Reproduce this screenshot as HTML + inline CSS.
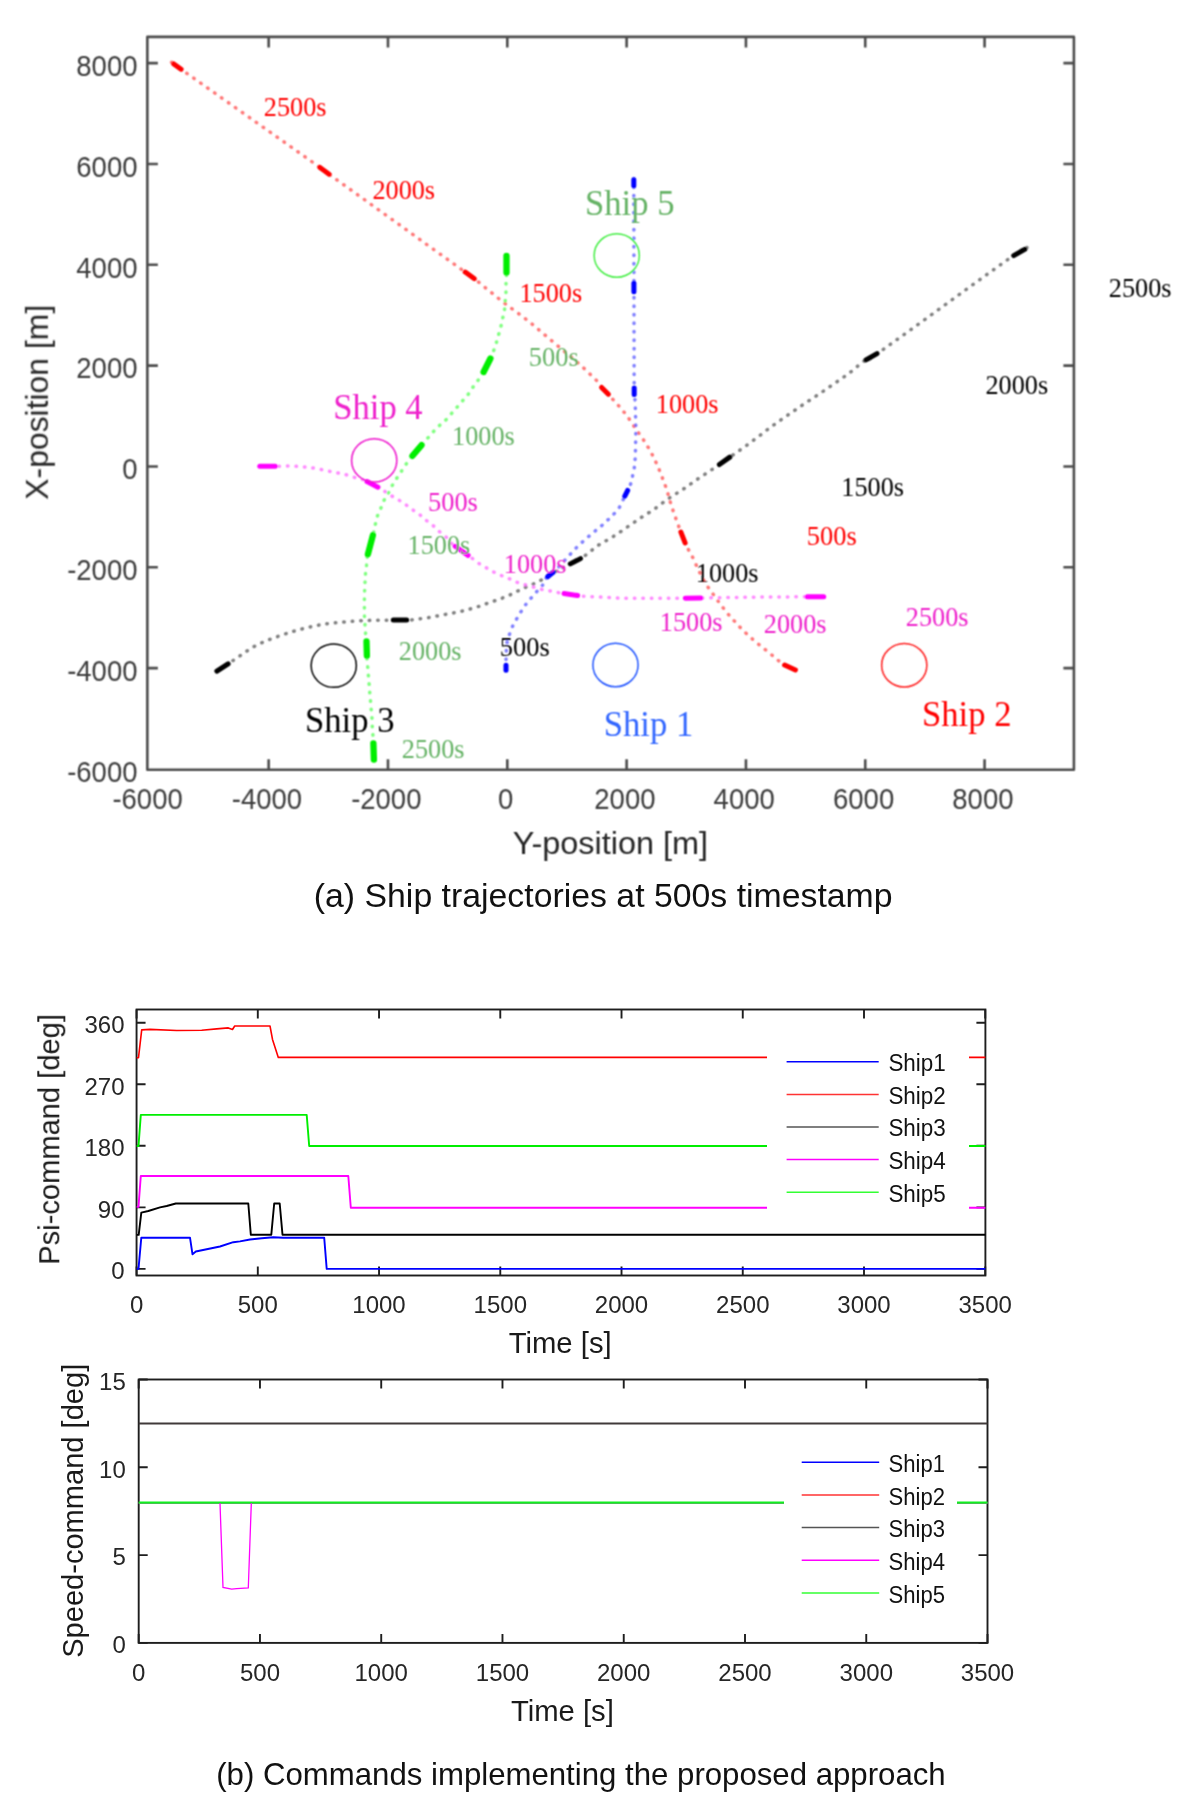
<!DOCTYPE html><html><head><meta charset="utf-8"><style>html,body{margin:0;padding:0;background:#fff;}svg{display:block;}</style></head><body>
<svg width="1200" height="1818" viewBox="0 0 1200 1818">
<defs><filter id="soft" x="0" y="0" width="1200" height="1818" filterUnits="userSpaceOnUse"><feConvolveMatrix order="3" kernelMatrix="1 2 1 2 4 2 1 2 1" divisor="16" edgeMode="none"/></filter></defs>
<rect width="1200" height="1818" fill="#fff"/>
<g filter="url(#soft)">
<path d="M797.5 671.0 L796.2 670.4 L794.2 669.5 L792.1 668.5 L790.0 667.5 L788.1 666.7 L786.2 665.9 L784.4 665.1 L782.5 664.0 L780.8 662.7 L779.1 661.2 L777.3 659.5 L775.0 657.5 L772.1 655.2 L768.8 652.5 L765.4 649.8 L762.0 647.0 L758.7 644.3 L755.4 641.6 L752.2 638.8 L749.0 636.0 L745.9 633.1 L742.9 630.1 L739.9 627.1 L737.0 624.0 L734.1 620.8 L731.2 617.6 L728.3 614.3 L725.6 611.0 L723.0 607.7 L720.5 604.3 L718.0 601.0 L715.6 597.6 L713.1 594.2 L710.7 590.9 L708.3 587.5 L706.0 584.0 L703.8 580.3 L701.8 576.5 L699.8 572.6 L698.0 569.0 L696.4 565.6 L694.9 562.2 L693.5 559.1 L692.0 556.0 L690.5 553.2 L688.9 550.5 L687.4 547.8 L686.0 545.0 L684.7 541.8 L683.4 538.5 L682.2 535.1 L681.0 532.0 L680.0 529.4 L679.0 527.1 L678.1 524.6 L677.0 521.7 L675.7 518.0 L674.2 513.8 L672.7 509.5 L671.3 505.3 L670.1 501.4 L669.0 497.5 L667.9 493.7 L666.7 489.7 L665.3 485.6 L663.7 481.3 L662.1 477.1 L660.5 473.0 L658.9 469.0 L657.2 465.1 L655.5 461.3 L653.7 457.5 L651.8 453.8 L649.8 450.1 L647.7 446.5 L645.5 443.0 L643.3 439.6 L641.0 436.4 L638.7 433.1 L636.3 429.7 L633.9 426.1 L631.4 422.4 L628.9 418.6 L626.3 415.0 L623.5 411.5 L620.6 408.1 L617.8 404.8 L615.0 401.7 L612.3 398.8 L609.7 396.0 L607.2 393.5 L605.0 391.0 L603.1 388.7 L601.4 386.4 L599.8 384.4 L598.3 382.5 L597.0 381.0 L595.9 379.8 L594.6 378.5 L592.7 376.7 L590.0 374.1 L586.8 371.1 L583.4 367.8 L580.0 364.7 L576.9 361.9 L573.8 359.3 L570.5 356.5 L566.7 353.3 L562.3 349.6 L557.4 345.5 L552.3 341.2 L547.3 337.0 L542.5 332.9 L537.7 328.8 L532.9 324.7 L528.0 320.7 L522.9 316.8 L517.7 313.0 L512.5 309.2 L507.3 305.3 L502.0 301.2 L496.7 296.9 L491.7 292.8 L487.3 289.3 L483.9 286.5 L481.2 284.2 L478.7 282.2 L476.0 280.0 L475.7 279.7 L477.2 280.7 L474.9 279.1 L463.3 270.7 L435.8 251.0 L397.2 223.2 L358.5 195.4 L331.0 175.6 L322.2 169.2 L324.7 170.8 L327.0 172.4 L318.0 166.0 L289.9 146.1 L250.4 118.2 L210.9 90.3 L183.0 70.6 L171.3 62.2 L169.0 60.6 L171.0 61.9 L171.9 62.5" fill="none" stroke="#ff4d4d" stroke-width="3.5" stroke-linecap="round" stroke-dasharray="0.5 8.0" stroke-dashoffset="-4.5" opacity="0.75"/>
<path d="M506.0 672.5 L506.0 671.1 L506.0 669.1 L506.0 666.7 L506.0 664.0 L506.0 660.8 L506.1 657.1 L506.2 653.3 L506.3 650.0 L506.5 647.1 L506.8 644.6 L507.1 642.2 L507.5 640.0 L508.0 638.1 L508.6 636.4 L509.3 634.8 L510.0 633.0 L510.7 631.0 L511.5 628.9 L512.4 626.7 L513.3 624.7 L514.3 622.8 L515.3 621.1 L516.4 619.3 L517.5 617.5 L518.6 615.6 L519.7 613.7 L520.9 611.8 L522.0 610.0 L523.1 608.3 L524.3 606.6 L525.5 604.9 L526.7 603.3 L528.0 601.7 L529.3 600.1 L530.6 598.6 L532.0 597.0 L533.4 595.5 L534.7 593.9 L536.1 592.4 L537.5 590.8 L539.0 589.2 L540.6 587.5 L542.1 585.8 L543.3 584.2 L544.0 582.7 L544.3 581.3 L544.8 579.9 L545.8 578.3 L547.6 576.6 L549.9 574.9 L552.4 573.0 L555.0 570.8 L557.6 568.2 L560.2 565.3 L563.0 562.3 L565.8 559.2 L568.7 556.0 L571.7 552.7 L574.7 549.4 L577.8 546.3 L580.9 543.4 L584.0 540.5 L587.1 537.8 L590.3 535.0 L593.5 532.3 L596.8 529.7 L600.1 527.0 L603.3 524.2 L606.6 521.1 L610.1 517.8 L613.2 514.7 L615.8 512.0 L617.6 510.0 L618.7 508.4 L619.6 507.0 L620.5 505.5 L621.4 503.8 L622.1 502.1 L622.9 500.3 L623.8 498.3 L625.0 495.9 L626.3 493.2 L627.6 490.6 L628.7 488.3 L629.5 486.5 L630.2 485.0 L630.8 483.6 L631.3 482.0 L631.8 480.1 L632.2 478.0 L632.6 475.8 L633.0 473.7 L633.4 471.7 L633.9 469.9 L634.3 467.7 L634.7 465.0 L635.0 461.4 L635.2 457.2 L635.4 452.7 L635.5 448.3 L635.6 444.0 L635.7 439.5 L635.8 435.1 L635.8 430.8 L635.8 426.5 L635.7 422.3 L635.6 418.2 L635.5 414.2 L635.4 410.5 L635.3 406.9 L635.2 403.5 L635.0 400.0 L634.8 398.1 L634.6 397.4 L634.4 394.4 L634.2 385.8 L634.1 370.2 L634.1 349.7 L634.0 325.7 L634.0 300.0 L633.9 269.1 L633.9 233.4 L633.8 200.4 L633.8 177.5" fill="none" stroke="#5555ff" stroke-width="3.5" stroke-linecap="round" stroke-dasharray="0.5 8.0" stroke-dashoffset="-4.5" opacity="0.75"/>
<path d="M215.0 672.5 L217.9 670.6 L222.0 667.8 L226.4 664.9 L230.0 662.5 L232.2 661.1 L233.6 660.1 L235.1 659.1 L237.5 657.5 L241.1 655.0 L245.5 652.0 L250.2 648.8 L255.0 646.0 L259.7 643.7 L264.5 641.5 L269.6 639.5 L275.0 637.5 L280.9 635.4 L287.2 633.3 L293.6 631.3 L300.0 629.5 L306.2 627.9 L312.5 626.4 L318.8 625.1 L325.0 624.0 L331.5 623.1 L338.1 622.5 L344.4 621.9 L350.0 621.5 L354.4 621.1 L358.0 620.9 L361.6 620.7 L366.0 620.5 L371.8 620.3 L378.4 620.2 L385.0 620.2 L391.0 620.1 L396.2 620.1 L401.0 620.1 L405.3 620.2 L409.0 620.1 L411.9 619.9 L414.1 619.6 L416.0 619.3 L418.0 619.0 L419.9 618.8 L421.7 618.6 L423.7 618.4 L426.3 618.0 L429.8 617.4 L433.9 616.6 L438.2 615.8 L442.5 615.0 L446.7 614.2 L450.9 613.4 L455.1 612.6 L459.2 611.7 L463.3 610.8 L467.2 609.8 L471.2 608.7 L475.3 607.5 L479.5 606.2 L483.7 604.7 L487.9 603.2 L492.0 601.7 L495.9 600.4 L499.6 599.1 L503.4 597.7 L507.2 596.2 L511.2 594.4 L515.2 592.3 L519.3 590.3 L523.3 588.3 L527.5 586.4 L531.8 584.6 L535.9 582.9 L539.2 581.3 L541.3 580.0 L542.6 579.0 L543.8 578.0 L545.8 576.7 L549.0 575.0 L552.8 572.9 L556.7 570.9 L560.0 569.2 L562.4 568.0 L564.1 567.1 L565.9 566.2 L568.3 565.0 L571.4 563.5 L575.0 561.7 L578.8 559.7 L582.5 557.5 L586.2 554.8 L590.0 551.7 L593.8 548.6 L597.5 545.8 L601.1 543.5 L604.6 541.5 L608.1 539.6 L611.7 537.5 L615.4 535.1 L619.3 532.6 L623.1 530.0 L626.7 527.5 L630.1 525.1 L633.4 522.8 L636.7 520.6 L640.0 518.3 L643.5 516.1 L647.1 513.8 L650.6 511.6 L654.2 509.2 L657.7 506.6 L661.3 503.9 L664.8 501.2 L668.3 498.7 L671.7 496.4 L675.1 494.3 L678.5 492.2 L682.0 490.0 L685.5 487.6 L689.1 485.0 L692.8 482.5 L696.3 480.0 L699.9 477.5 L703.6 475.1 L707.0 472.8 L710.0 470.8 L712.2 469.4 L713.7 468.4 L715.3 467.3 L717.5 465.8 L720.6 463.6 L724.2 461.1 L728.0 458.4 L731.7 455.8 L735.2 453.4 L738.6 451.0 L742.0 448.7 L745.3 446.3 L748.5 444.0 L751.6 441.7 L754.8 439.3 L758.3 436.7 L762.0 433.9 L765.9 430.8 L770.2 427.6 L775.0 424.0 L780.7 420.0 L787.0 415.6 L793.6 411.1 L800.0 406.7 L806.2 402.5 L812.5 398.4 L818.8 394.2 L825.0 390.0 L831.5 385.5 L838.2 380.9 L844.5 376.5 L850.0 372.5 L854.2 369.1 L857.6 366.2 L860.7 363.5 L864.0 361.0 L864.9 360.7 L864.1 362.0 L867.0 360.7 L879.0 352.5 L906.7 332.6 L945.4 304.6 L984.0 276.6 L1011.7 256.7 L1024.1 248.3 L1027.5 246.5 L1026.8 247.8 L1026.7 248.3" fill="none" stroke="#555555" stroke-width="3.5" stroke-linecap="round" stroke-dasharray="0.5 8.0" stroke-dashoffset="-4.5" opacity="0.75"/>
<path d="M257.5 466.3 L261.4 466.3 L267.0 466.3 L272.9 466.3 L277.5 466.3 L279.8 466.2 L280.9 465.9 L282.2 465.8 L285.0 465.8 L290.0 466.0 L296.4 466.3 L303.3 466.8 L310.0 467.5 L316.6 468.6 L323.5 470.0 L329.9 471.4 L335.0 472.5 L338.4 473.1 L340.6 473.5 L342.3 473.8 L344.2 474.2 L346.4 474.8 L348.5 475.4 L350.5 476.1 L352.5 476.7 L354.5 477.4 L356.5 478.0 L358.3 478.7 L360.0 479.2 L361.2 479.5 L362.0 479.5 L363.1 479.7 L365.0 480.5 L368.2 482.0 L372.2 484.1 L376.4 486.3 L380.0 488.3 L382.9 490.1 L385.5 491.9 L387.8 493.5 L390.0 495.0 L392.1 496.2 L393.9 497.2 L395.7 498.2 L397.5 499.2 L399.4 500.4 L401.3 501.6 L403.2 502.9 L405.0 504.2 L406.7 505.4 L408.4 506.7 L410.0 507.9 L411.7 509.2 L413.5 510.4 L415.5 511.6 L417.4 512.9 L419.2 514.2 L420.9 515.6 L422.6 517.1 L424.2 518.6 L425.8 520.0 L427.5 521.3 L429.2 522.5 L430.9 523.7 L432.5 525.0 L434.0 526.4 L435.4 527.8 L436.8 529.3 L438.3 530.8 L440.1 532.2 L441.9 533.6 L443.9 535.1 L445.8 536.7 L447.5 538.5 L449.0 540.5 L450.8 542.6 L453.3 545.0 L457.0 547.8 L461.6 551.0 L466.2 554.1 L470.0 556.7 L472.7 558.7 L474.7 560.3 L476.5 561.7 L478.3 563.0 L480.2 564.3 L482.1 565.4 L484.0 566.4 L485.8 567.5 L487.6 568.6 L489.4 569.7 L491.2 570.7 L493.0 571.7 L494.9 572.7 L496.9 573.6 L498.9 574.5 L500.8 575.3 L502.7 576.1 L504.5 576.8 L506.4 577.5 L508.3 578.3 L510.3 579.2 L512.2 580.2 L514.3 581.1 L516.3 582.0 L518.4 582.8 L520.5 583.5 L522.6 584.1 L524.7 584.7 L526.7 585.2 L528.6 585.7 L530.5 586.2 L532.5 586.7 L534.5 587.3 L536.6 588.0 L538.7 588.6 L540.8 589.2 L542.9 589.7 L545.0 590.0 L547.1 590.4 L549.2 590.8 L551.4 591.2 L553.6 591.7 L555.7 592.1 L557.5 592.5 L558.5 592.7 L559.0 592.9 L559.8 593.0 L561.7 593.3 L565.4 593.8 L570.4 594.5 L575.6 595.2 L580.0 595.8 L583.5 596.2 L586.5 596.4 L589.2 596.6 L591.7 596.7 L594.0 596.8 L596.1 596.9 L598.0 596.9 L600.0 597.0 L602.1 597.1 L604.1 597.2 L606.2 597.4 L608.3 597.5 L610.4 597.6 L612.4 597.8 L614.5 597.9 L616.7 598.0 L618.6 598.1 L620.3 598.1 L622.4 598.2 L625.8 598.2 L630.6 598.2 L636.4 598.3 L643.0 598.3 L650.0 598.3 L657.9 598.3 L666.8 598.3 L675.5 598.2 L683.0 598.2 L688.9 598.2 L693.7 598.1 L698.2 598.1 L703.0 598.0 L708.3 597.9 L713.7 597.8 L719.2 597.7 L725.0 597.6 L731.0 597.5 L737.3 597.4 L743.7 597.3 L750.0 597.2 L756.1 597.1 L762.2 597.1 L768.4 597.0 L775.0 597.0 L782.4 596.9 L790.2 596.9 L798.0 596.8 L805.0 596.8 L811.4 596.8 L817.4 596.8 L822.4 596.8 L826.0 596.8" fill="none" stroke="#ff66ff" stroke-width="3.5" stroke-linecap="round" stroke-dasharray="0.5 8.0" stroke-dashoffset="-4.5" opacity="0.75"/>
<path d="M506.5 253.5 L506.5 257.6 L506.5 263.6 L506.5 269.8 L506.5 274.7 L506.4 277.6 L506.2 279.5 L506.1 281.0 L506.0 282.7 L506.0 284.8 L506.0 287.0 L506.0 289.2 L506.0 291.3 L505.9 293.3 L505.7 295.3 L505.5 297.3 L505.3 299.3 L505.2 301.4 L505.1 303.6 L504.9 305.8 L504.7 308.0 L504.4 310.2 L503.9 312.4 L503.5 314.6 L503.0 316.7 L502.6 318.7 L502.2 320.7 L501.8 322.7 L501.3 324.7 L500.8 326.8 L500.2 329.0 L499.6 331.2 L499.0 333.3 L498.4 335.4 L497.9 337.5 L497.3 339.6 L496.7 341.6 L496.0 343.6 L495.4 345.7 L494.7 347.7 L494.0 349.6 L493.5 351.2 L493.1 352.5 L492.6 354.1 L491.5 356.5 L489.6 360.4 L487.1 365.4 L484.5 370.2 L482.5 374.0 L481.2 376.1 L480.4 377.3 L479.6 378.1 L478.7 379.3 L477.5 381.0 L476.1 382.9 L474.7 384.8 L473.3 386.7 L472.0 388.6 L470.8 390.5 L469.5 392.4 L468.3 394.2 L467.1 395.7 L465.8 397.1 L464.6 398.5 L463.3 400.0 L461.9 401.6 L460.5 403.3 L459.0 405.0 L457.5 406.7 L456.1 408.4 L454.6 410.0 L453.2 411.6 L451.7 413.3 L450.2 415.0 L448.7 416.8 L447.3 418.4 L445.8 420.0 L444.3 421.4 L442.9 422.6 L441.4 423.7 L440.0 425.0 L438.6 426.4 L437.1 427.8 L435.7 429.3 L434.2 430.8 L432.7 432.4 L431.2 434.1 L429.7 435.9 L428.3 437.5 L427.1 438.9 L426.0 440.0 L424.8 441.5 L423.0 443.5 L420.3 446.6 L416.9 450.5 L413.6 454.4 L411.0 457.5 L409.4 459.5 L408.4 460.8 L407.6 461.9 L406.7 463.3 L405.5 465.1 L404.2 466.9 L403.0 468.9 L401.7 470.8 L400.4 472.7 L399.2 474.6 L397.9 476.5 L396.7 478.3 L395.6 480.0 L394.5 481.6 L393.5 483.2 L392.5 485.0 L391.4 487.0 L390.4 489.2 L389.3 491.3 L388.3 493.3 L387.3 495.1 L386.2 496.6 L385.2 498.2 L384.2 500.0 L383.3 502.0 L382.4 504.1 L381.6 506.2 L380.8 508.3 L379.9 510.2 L379.1 512.0 L378.2 513.9 L377.5 515.8 L376.9 517.8 L376.4 519.9 L375.9 522.0 L375.4 524.1 L375.0 525.9 L374.7 527.6 L374.3 529.7 L373.5 533.0 L372.1 538.2 L370.3 544.8 L368.6 551.3 L367.3 556.5 L366.7 559.8 L366.6 561.9 L366.6 563.6 L366.5 565.4 L366.3 567.5 L366.0 569.5 L365.7 571.5 L365.5 573.6 L365.3 575.8 L365.2 578.1 L365.1 580.3 L365.0 582.6 L364.9 584.8 L364.8 587.1 L364.7 589.3 L364.6 591.5 L364.5 593.6 L364.5 595.6 L364.4 597.7 L364.4 599.8 L364.4 602.0 L364.4 604.2 L364.4 606.5 L364.4 608.7 L364.4 610.8 L364.4 612.9 L364.4 614.9 L364.5 617.0 L364.6 619.1 L364.7 621.1 L364.9 623.1 L365.0 625.2 L365.1 627.3 L365.3 629.5 L365.4 631.6 L365.6 633.5 L365.8 634.8 L366.1 635.6 L366.3 636.7 L366.5 639.0 L366.6 643.0 L366.7 648.2 L366.8 653.6 L366.9 658.0 L367.1 661.1 L367.3 663.6 L367.6 665.7 L367.8 667.9 L368.0 670.2 L368.2 672.5 L368.3 674.6 L368.5 676.8 L368.7 678.9 L368.9 680.9 L369.0 682.9 L369.2 685.0 L369.4 687.2 L369.5 689.5 L369.7 691.8 L369.9 694.0 L370.1 696.0 L370.2 697.8 L370.4 699.6 L370.6 701.6 L370.8 703.7 L371.0 706.0 L371.1 708.3 L371.3 710.5 L371.5 712.6 L371.7 714.7 L371.9 716.7 L372.0 718.8 L372.1 720.8 L372.2 722.9 L372.2 724.9 L372.3 727.0 L372.5 729.3 L372.6 731.7 L372.8 734.0 L373.0 736.0 L373.1 737.2 L373.2 737.8 L373.2 738.7 L373.3 741.0 L373.5 745.6 L373.7 751.8 L373.9 757.9 L374.0 762.0" fill="none" stroke="#55ff55" stroke-width="3.5" stroke-linecap="round" stroke-dasharray="0.5 8.0" stroke-dashoffset="-4.5" opacity="0.75"/>
<path d="M795.4 670.0 L784.6 665.0" stroke="#ff0000" stroke-width="5.0" stroke-linecap="round"/>
<path d="M685.1 542.9 L680.9 532.1" stroke="#ff0000" stroke-width="5.0" stroke-linecap="round"/>
<path d="M608.4 394.2 L601.6 387.4" stroke="#ff0000" stroke-width="5.0" stroke-linecap="round"/>
<path d="M474.1 278.6 L465.2 272.1" stroke="#ff0000" stroke-width="5.0" stroke-linecap="round"/>
<path d="M329.1 174.2 L319.9 167.4" stroke="#ff0000" stroke-width="5.0" stroke-linecap="round"/>
<path d="M181.1 69.2 L173.8 63.9" stroke="#ff0000" stroke-width="5.0" stroke-linecap="round"/>
<path d="M506.0 670.2 L506.0 665.3" stroke="#0000ff" stroke-width="5.0" stroke-linecap="round"/>
<path d="M547.6 576.8 L553.2 572.3" stroke="#0000ff" stroke-width="5.0" stroke-linecap="round"/>
<path d="M624.8 496.2 L627.7 490.4" stroke="#0000ff" stroke-width="5.0" stroke-linecap="round"/>
<path d="M634.2 394.4 L634.2 388.1" stroke="#0000ff" stroke-width="5.0" stroke-linecap="round"/>
<path d="M633.9 291.7 L633.9 283.3" stroke="#0000ff" stroke-width="5.0" stroke-linecap="round"/>
<path d="M633.8 185.7 L633.8 179.8" stroke="#0000ff" stroke-width="5.0" stroke-linecap="round"/>
<path d="M216.9 671.2 L228.1 663.8" stroke="#000000" stroke-width="5.0" stroke-linecap="round"/>
<path d="M393.3 620.1 L406.7 620.1" stroke="#000000" stroke-width="5.0" stroke-linecap="round"/>
<path d="M570.3 563.9 L580.5 558.6" stroke="#000000" stroke-width="5.0" stroke-linecap="round"/>
<path d="M719.4 464.5 L729.8 457.1" stroke="#000000" stroke-width="5.0" stroke-linecap="round"/>
<path d="M866.0 359.9 L877.0 353.6" stroke="#000000" stroke-width="5.0" stroke-linecap="round"/>
<path d="M1013.7 255.6 L1024.7 249.4" stroke="#000000" stroke-width="5.0" stroke-linecap="round"/>
<path d="M259.8 466.3 L275.2 466.3" stroke="#ff00ff" stroke-width="5.0" stroke-linecap="round"/>
<path d="M367.0 481.6 L378.0 487.2" stroke="#ff00ff" stroke-width="5.0" stroke-linecap="round"/>
<path d="M455.2 546.3 L468.1 555.4" stroke="#ff00ff" stroke-width="5.0" stroke-linecap="round"/>
<path d="M564.0 593.6 L577.7 595.5" stroke="#ff00ff" stroke-width="5.0" stroke-linecap="round"/>
<path d="M685.3 598.2 L700.7 598.0" stroke="#ff00ff" stroke-width="5.0" stroke-linecap="round"/>
<path d="M807.3 596.8 L823.7 596.8" stroke="#ff00ff" stroke-width="5.0" stroke-linecap="round"/>
<path d="M506.5 255.8 L506.5 272.4" stroke="#00ee00" stroke-width="6.3" stroke-linecap="round"/>
<path d="M490.4 358.5 L483.6 372.0" stroke="#00ee00" stroke-width="6.3" stroke-linecap="round"/>
<path d="M421.5 445.2 L412.5 455.8" stroke="#00ee00" stroke-width="6.3" stroke-linecap="round"/>
<path d="M372.9 535.2 L367.9 554.3" stroke="#00ee00" stroke-width="6.3" stroke-linecap="round"/>
<path d="M366.5 641.3 L366.9 655.7" stroke="#00ee00" stroke-width="6.3" stroke-linecap="round"/>
<path d="M373.4 743.3 L373.9 759.7" stroke="#00ee00" stroke-width="6.3" stroke-linecap="round"/>
<ellipse cx="615.50" cy="665.00" rx="22.6" ry="21.7" fill="none" stroke="#2255ff" stroke-width="1.5"/>
<ellipse cx="904.25" cy="665.25" rx="22.6" ry="21.7" fill="none" stroke="#ff2222" stroke-width="1.5"/>
<ellipse cx="333.75" cy="665.60" rx="22.6" ry="21.7" fill="none" stroke="#000000" stroke-width="1.5"/>
<ellipse cx="374.20" cy="460.40" rx="22.6" ry="21.7" fill="none" stroke="#ee11cc" stroke-width="1.5"/>
<ellipse cx="616.75" cy="255.50" rx="22.6" ry="21.7" fill="none" stroke="#44ee44" stroke-width="1.5"/>
<text x="263.8" y="116.4" font-family='"Liberation Serif", serif' font-size="27.0" fill="#ff0000" text-anchor="start" textLength="62.7" lengthAdjust="spacingAndGlyphs">2500s</text>
<text x="372.4" y="199.4" font-family='"Liberation Serif", serif' font-size="27.0" fill="#ff0000" text-anchor="start" textLength="62.7" lengthAdjust="spacingAndGlyphs">2000s</text>
<text x="519.5" y="302.0" font-family='"Liberation Serif", serif' font-size="27.0" fill="#ff0000" text-anchor="start" textLength="62.7" lengthAdjust="spacingAndGlyphs">1500s</text>
<text x="655.8" y="413.0" font-family='"Liberation Serif", serif' font-size="27.0" fill="#ff0000" text-anchor="start" textLength="62.7" lengthAdjust="spacingAndGlyphs">1000s</text>
<text x="806.8" y="545.0" font-family='"Liberation Serif", serif' font-size="27.0" fill="#ff0000" text-anchor="start" textLength="49.9" lengthAdjust="spacingAndGlyphs">500s</text>
<text x="528.8" y="366.0" font-family='"Liberation Serif", serif' font-size="27.0" fill="#66b366" text-anchor="start" textLength="49.9" lengthAdjust="spacingAndGlyphs">500s</text>
<text x="452.1" y="445.0" font-family='"Liberation Serif", serif' font-size="27.0" fill="#66b366" text-anchor="start" textLength="62.7" lengthAdjust="spacingAndGlyphs">1000s</text>
<text x="407.6" y="554.0" font-family='"Liberation Serif", serif' font-size="27.0" fill="#66b366" text-anchor="start" textLength="62.7" lengthAdjust="spacingAndGlyphs">1500s</text>
<text x="398.8" y="660.0" font-family='"Liberation Serif", serif' font-size="27.0" fill="#66b366" text-anchor="start" textLength="62.7" lengthAdjust="spacingAndGlyphs">2000s</text>
<text x="401.8" y="758.0" font-family='"Liberation Serif", serif' font-size="27.0" fill="#66b366" text-anchor="start" textLength="62.7" lengthAdjust="spacingAndGlyphs">2500s</text>
<text x="428.0" y="511.2" font-family='"Liberation Serif", serif' font-size="27.0" fill="#ee22cc" text-anchor="start" textLength="49.9" lengthAdjust="spacingAndGlyphs">500s</text>
<text x="503.8" y="573.3" font-family='"Liberation Serif", serif' font-size="27.0" fill="#ee22cc" text-anchor="start" textLength="62.7" lengthAdjust="spacingAndGlyphs">1000s</text>
<text x="659.8" y="631.0" font-family='"Liberation Serif", serif' font-size="27.0" fill="#ee22cc" text-anchor="start" textLength="62.7" lengthAdjust="spacingAndGlyphs">1500s</text>
<text x="763.8" y="633.0" font-family='"Liberation Serif", serif' font-size="27.0" fill="#ee22cc" text-anchor="start" textLength="62.7" lengthAdjust="spacingAndGlyphs">2000s</text>
<text x="905.8" y="626.2" font-family='"Liberation Serif", serif' font-size="27.0" fill="#ee22cc" text-anchor="start" textLength="62.7" lengthAdjust="spacingAndGlyphs">2500s</text>
<text x="499.8" y="655.8" font-family='"Liberation Serif", serif' font-size="27.0" fill="#000000" text-anchor="start" textLength="49.9" lengthAdjust="spacingAndGlyphs">500s</text>
<text x="695.8" y="582.0" font-family='"Liberation Serif", serif' font-size="27.0" fill="#000000" text-anchor="start" textLength="62.7" lengthAdjust="spacingAndGlyphs">1000s</text>
<text x="841.3" y="495.8" font-family='"Liberation Serif", serif' font-size="27.0" fill="#000000" text-anchor="start" textLength="62.7" lengthAdjust="spacingAndGlyphs">1500s</text>
<text x="985.5" y="394.4" font-family='"Liberation Serif", serif' font-size="27.0" fill="#000000" text-anchor="start" textLength="62.7" lengthAdjust="spacingAndGlyphs">2000s</text>
<text x="1108.8" y="297.3" font-family='"Liberation Serif", serif' font-size="27.0" fill="#000000" text-anchor="start" textLength="62.7" lengthAdjust="spacingAndGlyphs">2500s</text>
<text x="603.8" y="736.2" font-family='"Liberation Serif", serif' font-size="35.0" fill="#3366ff" text-anchor="start" textLength="89.5" lengthAdjust="spacingAndGlyphs">Ship 1</text>
<text x="922.0" y="725.8" font-family='"Liberation Serif", serif' font-size="35.0" fill="#ff0000" text-anchor="start" textLength="89.5" lengthAdjust="spacingAndGlyphs">Ship 2</text>
<text x="305.0" y="732.0" font-family='"Liberation Serif", serif' font-size="35.0" fill="#000000" text-anchor="start" textLength="89.5" lengthAdjust="spacingAndGlyphs">Ship 3</text>
<text x="333.2" y="419.0" font-family='"Liberation Serif", serif' font-size="35.0" fill="#ee22cc" text-anchor="start" textLength="89.5" lengthAdjust="spacingAndGlyphs">Ship 4</text>
<text x="585.0" y="215.0" font-family='"Liberation Serif", serif' font-size="35.0" fill="#66b366" text-anchor="start" textLength="89.5" lengthAdjust="spacingAndGlyphs">Ship 5</text>
<rect x="147.35" y="36.90" width="926.55" height="732.80" fill="none" stroke="#4d4d4d" stroke-width="2.6" stroke-linejoin="round"/>
<path d="M268.66 769.70 V759.20 M268.66 36.90 V47.40 M147.35 668.11 H157.85 M1073.90 668.11 H1063.40 M387.98 769.70 V759.20 M387.98 36.90 V47.40 M147.35 567.28 H157.85 M1073.90 567.28 H1063.40 M507.30 769.70 V759.20 M507.30 36.90 V47.40 M147.35 466.46 H157.85 M1073.90 466.46 H1063.40 M626.62 769.70 V759.20 M626.62 36.90 V47.40 M147.35 365.64 H157.85 M1073.90 365.64 H1063.40 M745.94 769.70 V759.20 M745.94 36.90 V47.40 M147.35 264.81 H157.85 M1073.90 264.81 H1063.40 M865.26 769.70 V759.20 M865.26 36.90 V47.40 M147.35 163.99 H157.85 M1073.90 163.99 H1063.40 M984.58 769.70 V759.20 M984.58 36.90 V47.40 M147.35 63.16 H157.85 M1073.90 63.16 H1063.40" stroke="#4d4d4d" stroke-width="2.6"/>
<text x="147.6" y="809.2" font-family='"Liberation Sans", sans-serif' font-size="29.6" fill="#3d3d3d" text-anchor="middle" textLength="70.3" lengthAdjust="spacingAndGlyphs">-6000</text>
<text x="137.5" y="781.6" font-family='"Liberation Sans", sans-serif' font-size="29.6" fill="#3d3d3d" text-anchor="end" textLength="70.3" lengthAdjust="spacingAndGlyphs">-6000</text>
<text x="267.0" y="809.2" font-family='"Liberation Sans", sans-serif' font-size="29.6" fill="#3d3d3d" text-anchor="middle" textLength="70.3" lengthAdjust="spacingAndGlyphs">-4000</text>
<text x="137.5" y="680.8" font-family='"Liberation Sans", sans-serif' font-size="29.6" fill="#3d3d3d" text-anchor="end" textLength="70.3" lengthAdjust="spacingAndGlyphs">-4000</text>
<text x="386.3" y="809.2" font-family='"Liberation Sans", sans-serif' font-size="29.6" fill="#3d3d3d" text-anchor="middle" textLength="70.3" lengthAdjust="spacingAndGlyphs">-2000</text>
<text x="137.5" y="580.0" font-family='"Liberation Sans", sans-serif' font-size="29.6" fill="#3d3d3d" text-anchor="end" textLength="70.3" lengthAdjust="spacingAndGlyphs">-2000</text>
<text x="505.6" y="809.2" font-family='"Liberation Sans", sans-serif' font-size="29.6" fill="#3d3d3d" text-anchor="middle" textLength="15.3" lengthAdjust="spacingAndGlyphs">0</text>
<text x="137.5" y="479.2" font-family='"Liberation Sans", sans-serif' font-size="29.6" fill="#3d3d3d" text-anchor="end" textLength="15.3" lengthAdjust="spacingAndGlyphs">0</text>
<text x="624.9" y="809.2" font-family='"Liberation Sans", sans-serif' font-size="29.6" fill="#3d3d3d" text-anchor="middle" textLength="61.2" lengthAdjust="spacingAndGlyphs">2000</text>
<text x="137.5" y="378.3" font-family='"Liberation Sans", sans-serif' font-size="29.6" fill="#3d3d3d" text-anchor="end" textLength="61.2" lengthAdjust="spacingAndGlyphs">2000</text>
<text x="744.2" y="809.2" font-family='"Liberation Sans", sans-serif' font-size="29.6" fill="#3d3d3d" text-anchor="middle" textLength="61.2" lengthAdjust="spacingAndGlyphs">4000</text>
<text x="137.5" y="277.5" font-family='"Liberation Sans", sans-serif' font-size="29.6" fill="#3d3d3d" text-anchor="end" textLength="61.2" lengthAdjust="spacingAndGlyphs">4000</text>
<text x="863.6" y="809.2" font-family='"Liberation Sans", sans-serif' font-size="29.6" fill="#3d3d3d" text-anchor="middle" textLength="61.2" lengthAdjust="spacingAndGlyphs">6000</text>
<text x="137.5" y="176.7" font-family='"Liberation Sans", sans-serif' font-size="29.6" fill="#3d3d3d" text-anchor="end" textLength="61.2" lengthAdjust="spacingAndGlyphs">6000</text>
<text x="982.9" y="809.2" font-family='"Liberation Sans", sans-serif' font-size="29.6" fill="#3d3d3d" text-anchor="middle" textLength="61.2" lengthAdjust="spacingAndGlyphs">8000</text>
<text x="137.5" y="75.9" font-family='"Liberation Sans", sans-serif' font-size="29.6" fill="#3d3d3d" text-anchor="end" textLength="61.2" lengthAdjust="spacingAndGlyphs">8000</text>
<text x="512.8" y="853.6" font-family='"Liberation Sans", sans-serif' font-size="31.2" fill="#262626" text-anchor="start" textLength="195.3" lengthAdjust="spacingAndGlyphs">Y-position [m]</text>
<g transform="translate(47.9 499.8) rotate(-90)"><text x="0.0" y="0.0" font-family='"Liberation Sans", sans-serif' font-size="31.3" fill="#262626" text-anchor="start" textLength="195.0" lengthAdjust="spacingAndGlyphs">X-position [m]</text></g>
</g>
<g>
<text x="313.8" y="906.8" font-family='"Liberation Sans", sans-serif' font-size="33.8" fill="#111111" text-anchor="start" textLength="578.8" lengthAdjust="spacingAndGlyphs">(a) Ship trajectories at 500s timestamp</text>
<rect x="136.56" y="1009.50" width="848.84" height="266.00" fill="none" stroke="#1e1e1e" stroke-width="1.9"/>
<path d="M136.56 1275.50 V1266.50 M136.56 1009.50 V1018.50 M257.80 1275.50 V1266.50 M257.80 1009.50 V1018.50 M379.04 1275.50 V1266.50 M379.04 1009.50 V1018.50 M500.28 1275.50 V1266.50 M500.28 1009.50 V1018.50 M621.52 1275.50 V1266.50 M621.52 1009.50 V1018.50 M742.76 1275.50 V1266.50 M742.76 1009.50 V1018.50 M864.00 1275.50 V1266.50 M864.00 1009.50 V1018.50 M985.24 1275.50 V1266.50 M985.24 1009.50 V1018.50 M136.56 1268.90 H145.56 M985.40 1268.90 H976.40 M136.56 1207.35 H145.56 M985.40 1207.35 H976.40 M136.56 1145.80 H145.56 M985.40 1145.80 H976.40 M136.56 1084.25 H145.56 M985.40 1084.25 H976.40 M136.56 1022.70 H145.56 M985.40 1022.70 H976.40" stroke="#1e1e1e" stroke-width="1.9"/>
<path d="M136.7 1057.7 L138.5 1057.7 L141.7 1029.9 L150.0 1029.4 L176.7 1030.5 L201.7 1030.2 L216.7 1028.9 L228.3 1027.9 L232.5 1029.5 L234.7 1026.0 L270.0 1026.0 L272.5 1039.4 L278.3 1057.4 L985.4 1057.4" fill="none" stroke="#ff0000" stroke-width="1.6" stroke-linejoin="round"/>
<path d="M136.7 1146.0 L138.5 1146.0 L140.8 1114.9 L306.7 1114.9 L309.2 1146.0 L985.4 1146.0" fill="none" stroke="#00ee00" stroke-width="1.9" stroke-linejoin="round"/>
<path d="M136.7 1206.9 L138.5 1206.9 L140.8 1176.0 L348.3 1176.0 L350.8 1207.7 L985.4 1207.7" fill="none" stroke="#ff00ff" stroke-width="1.9" stroke-linejoin="round"/>
<path d="M136.7 1234.9 L138.7 1234.9 L141.3 1212.7 L148.3 1211.0 L160.0 1207.4 L166.7 1206.0 L175.8 1203.5 L248.3 1203.5 L250.8 1234.7 L271.3 1234.7 L274.2 1203.5 L279.7 1203.5 L282.5 1234.7 L985.4 1234.7" fill="none" stroke="#000000" stroke-width="1.9" stroke-linejoin="round"/>
<path d="M136.7 1268.9 L138.5 1268.9 L141.3 1237.7 L190.0 1237.7 L192.5 1254.4 L195.8 1251.5 L220.0 1246.5 L233.3 1242.2 L240.0 1241.4 L250.0 1239.5 L261.7 1238.2 L273.3 1237.2 L283.3 1237.7 L324.2 1237.7 L326.7 1268.9 L985.4 1268.9" fill="none" stroke="#0000ff" stroke-width="1.9" stroke-linejoin="round"/>
<rect x="767" y="1040" width="202" height="174" fill="#fff"/>
<path d="M786.6 1061.8 H878.7" stroke="#0000ff" stroke-width="1.5"/>
<text x="888.4" y="1071.1" font-family='"Liberation Sans", sans-serif' font-size="23.0" fill="#111111" text-anchor="start" textLength="57.4" lengthAdjust="spacingAndGlyphs">Ship1</text>
<path d="M786.6 1094.4 H878.7" stroke="#ff3333" stroke-width="1.5"/>
<text x="888.4" y="1103.7" font-family='"Liberation Sans", sans-serif' font-size="23.0" fill="#111111" text-anchor="start" textLength="57.4" lengthAdjust="spacingAndGlyphs">Ship2</text>
<path d="M786.6 1127.0 H878.7" stroke="#555555" stroke-width="1.5"/>
<text x="888.4" y="1136.3" font-family='"Liberation Sans", sans-serif' font-size="23.0" fill="#111111" text-anchor="start" textLength="57.4" lengthAdjust="spacingAndGlyphs">Ship3</text>
<path d="M786.6 1159.6 H878.7" stroke="#ff00ff" stroke-width="1.5"/>
<text x="888.4" y="1168.9" font-family='"Liberation Sans", sans-serif' font-size="23.0" fill="#111111" text-anchor="start" textLength="57.4" lengthAdjust="spacingAndGlyphs">Ship4</text>
<path d="M786.6 1192.2 H878.7" stroke="#33ff33" stroke-width="1.5"/>
<text x="888.4" y="1201.5" font-family='"Liberation Sans", sans-serif' font-size="23.0" fill="#111111" text-anchor="start" textLength="57.4" lengthAdjust="spacingAndGlyphs">Ship5</text>
<text x="136.6" y="1313.1" font-family='"Liberation Sans", sans-serif' font-size="24.0" fill="#262626" text-anchor="middle">0</text>
<text x="257.8" y="1313.1" font-family='"Liberation Sans", sans-serif' font-size="24.0" fill="#262626" text-anchor="middle">500</text>
<text x="379.0" y="1313.1" font-family='"Liberation Sans", sans-serif' font-size="24.0" fill="#262626" text-anchor="middle">1000</text>
<text x="500.3" y="1313.1" font-family='"Liberation Sans", sans-serif' font-size="24.0" fill="#262626" text-anchor="middle">1500</text>
<text x="621.5" y="1313.1" font-family='"Liberation Sans", sans-serif' font-size="24.0" fill="#262626" text-anchor="middle">2000</text>
<text x="742.8" y="1313.1" font-family='"Liberation Sans", sans-serif' font-size="24.0" fill="#262626" text-anchor="middle">2500</text>
<text x="864.0" y="1313.1" font-family='"Liberation Sans", sans-serif' font-size="24.0" fill="#262626" text-anchor="middle">3000</text>
<text x="985.2" y="1313.1" font-family='"Liberation Sans", sans-serif' font-size="24.0" fill="#262626" text-anchor="middle">3500</text>
<text x="124.5" y="1279.2" font-family='"Liberation Sans", sans-serif' font-size="24.0" fill="#262626" text-anchor="end">0</text>
<text x="124.5" y="1217.6" font-family='"Liberation Sans", sans-serif' font-size="24.0" fill="#262626" text-anchor="end">90</text>
<text x="124.5" y="1156.1" font-family='"Liberation Sans", sans-serif' font-size="24.0" fill="#262626" text-anchor="end">180</text>
<text x="124.5" y="1094.5" font-family='"Liberation Sans", sans-serif' font-size="24.0" fill="#262626" text-anchor="end">270</text>
<text x="124.5" y="1033.0" font-family='"Liberation Sans", sans-serif' font-size="24.0" fill="#262626" text-anchor="end">360</text>
<text x="508.7" y="1352.7" font-family='"Liberation Sans", sans-serif' font-size="28.8" fill="#1a1a1a" text-anchor="start" textLength="103.0" lengthAdjust="spacingAndGlyphs">Time [s]</text>
<g transform="translate(59.3 1264.8) rotate(-90)"><text x="0.0" y="0.0" font-family='"Liberation Sans", sans-serif' font-size="28.8" fill="#1a1a1a" text-anchor="start" textLength="250.8" lengthAdjust="spacingAndGlyphs">Psi-command [deg]</text></g>
<rect x="138.70" y="1379.50" width="848.80" height="263.40" fill="none" stroke="#1e1e1e" stroke-width="1.9"/>
<path d="M138.70 1642.90 V1633.90 M138.70 1379.50 V1388.50 M259.96 1642.90 V1633.90 M259.96 1379.50 V1388.50 M381.22 1642.90 V1633.90 M381.22 1379.50 V1388.50 M502.48 1642.90 V1633.90 M502.48 1379.50 V1388.50 M623.74 1642.90 V1633.90 M623.74 1379.50 V1388.50 M745.00 1642.90 V1633.90 M745.00 1379.50 V1388.50 M866.26 1642.90 V1633.90 M866.26 1379.50 V1388.50 M987.52 1642.90 V1633.90 M987.52 1379.50 V1388.50 M138.70 1642.90 H147.70 M987.50 1642.90 H978.50 M138.70 1555.10 H147.70 M987.50 1555.10 H978.50 M138.70 1467.30 H147.70 M987.50 1467.30 H978.50 M138.70 1379.50 H147.70 M987.50 1379.50 H978.50" stroke="#1e1e1e" stroke-width="1.9"/>
<path d="M138.7 1423.4 H987.5" stroke="#403a3a" stroke-width="2"/>
<path d="M138.7 1503.1 H987.5" stroke="#809080" stroke-width="2"/>
<path d="M138.7 1502.4 H987.5" stroke="#10f020" stroke-width="2"/>
<path d="M220 1503.3 L223 1587.5 L231.7 1589.2 L236.7 1588.7 L248.3 1588 L251.3 1503.3" fill="none" stroke="#ff00ff" stroke-width="1.3"/>
<rect x="784" y="1440" width="173" height="172" fill="#fff"/>
<path d="M801.7 1462.3 H879.2" stroke="#0000ff" stroke-width="1.5"/>
<text x="888.5" y="1472.1" font-family='"Liberation Sans", sans-serif' font-size="23.0" fill="#111111" text-anchor="start" textLength="56.5" lengthAdjust="spacingAndGlyphs">Ship1</text>
<path d="M801.7 1495.0 H879.2" stroke="#ff3333" stroke-width="1.5"/>
<text x="888.5" y="1504.8" font-family='"Liberation Sans", sans-serif' font-size="23.0" fill="#111111" text-anchor="start" textLength="56.5" lengthAdjust="spacingAndGlyphs">Ship2</text>
<path d="M801.7 1527.6 H879.2" stroke="#555555" stroke-width="1.5"/>
<text x="888.5" y="1537.4" font-family='"Liberation Sans", sans-serif' font-size="23.0" fill="#111111" text-anchor="start" textLength="56.5" lengthAdjust="spacingAndGlyphs">Ship3</text>
<path d="M801.7 1560.2 H879.2" stroke="#ff00ff" stroke-width="1.5"/>
<text x="888.5" y="1570.0" font-family='"Liberation Sans", sans-serif' font-size="23.0" fill="#111111" text-anchor="start" textLength="56.5" lengthAdjust="spacingAndGlyphs">Ship4</text>
<path d="M801.7 1592.9 H879.2" stroke="#33ff33" stroke-width="1.5"/>
<text x="888.5" y="1602.7" font-family='"Liberation Sans", sans-serif' font-size="23.0" fill="#111111" text-anchor="start" textLength="56.5" lengthAdjust="spacingAndGlyphs">Ship5</text>
<text x="138.7" y="1681.2" font-family='"Liberation Sans", sans-serif' font-size="24.0" fill="#262626" text-anchor="middle">0</text>
<text x="260.0" y="1681.2" font-family='"Liberation Sans", sans-serif' font-size="24.0" fill="#262626" text-anchor="middle">500</text>
<text x="381.2" y="1681.2" font-family='"Liberation Sans", sans-serif' font-size="24.0" fill="#262626" text-anchor="middle">1000</text>
<text x="502.5" y="1681.2" font-family='"Liberation Sans", sans-serif' font-size="24.0" fill="#262626" text-anchor="middle">1500</text>
<text x="623.7" y="1681.2" font-family='"Liberation Sans", sans-serif' font-size="24.0" fill="#262626" text-anchor="middle">2000</text>
<text x="745.0" y="1681.2" font-family='"Liberation Sans", sans-serif' font-size="24.0" fill="#262626" text-anchor="middle">2500</text>
<text x="866.3" y="1681.2" font-family='"Liberation Sans", sans-serif' font-size="24.0" fill="#262626" text-anchor="middle">3000</text>
<text x="987.5" y="1681.2" font-family='"Liberation Sans", sans-serif' font-size="24.0" fill="#262626" text-anchor="middle">3500</text>
<text x="125.8" y="1653.2" font-family='"Liberation Sans", sans-serif' font-size="24.0" fill="#262626" text-anchor="end">0</text>
<text x="125.8" y="1565.4" font-family='"Liberation Sans", sans-serif' font-size="24.0" fill="#262626" text-anchor="end">5</text>
<text x="125.8" y="1477.6" font-family='"Liberation Sans", sans-serif' font-size="24.0" fill="#262626" text-anchor="end">10</text>
<text x="125.8" y="1389.8" font-family='"Liberation Sans", sans-serif' font-size="24.0" fill="#262626" text-anchor="end">15</text>
<text x="510.9" y="1720.7" font-family='"Liberation Sans", sans-serif' font-size="28.8" fill="#1a1a1a" text-anchor="start" textLength="103.0" lengthAdjust="spacingAndGlyphs">Time [s]</text>
<g transform="translate(83.4 1657.8) rotate(-90)"><text x="0.0" y="0.0" font-family='"Liberation Sans", sans-serif' font-size="28.8" fill="#1a1a1a" text-anchor="start" textLength="294.0" lengthAdjust="spacingAndGlyphs">Speed-command [deg]</text></g>
<text x="216.2" y="1785.4" font-family='"Liberation Sans", sans-serif' font-size="30.5" fill="#111111" text-anchor="start" textLength="729.5" lengthAdjust="spacingAndGlyphs">(b) Commands implementing the proposed approach</text>
</g>
</svg></body></html>
